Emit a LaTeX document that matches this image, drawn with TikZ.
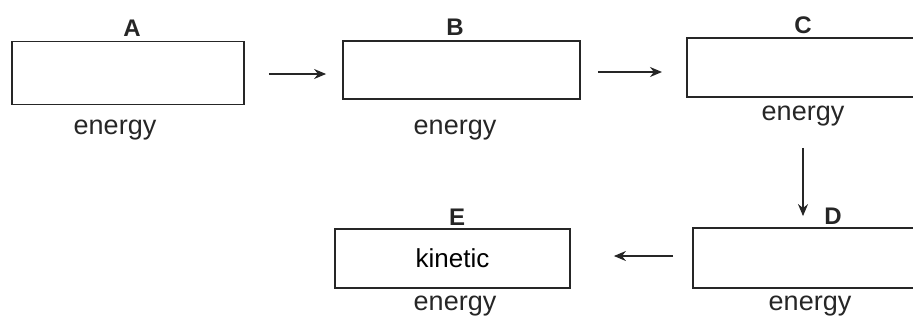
\documentclass[tikz,border=0pt]{standalone}
\usepackage{fontspec}
\setmainfont{Liberation Sans}
\usetikzlibrary{arrows.meta}
\begin{document}
\begin{tikzpicture}[x=1pt,y=-1pt,
  box/.style={draw=black!85, line width=1.8pt, rectangle, inner sep=0pt, font=\fontsize{26}{30}\selectfont},
  lab/.style={font=\bfseries\fontsize{24}{28}\selectfont, text=black!85, inner sep=0pt},
  en/.style={font=\fontsize{27}{31}\selectfont, text=black!85, inner sep=0pt},
  arr/.style={draw=black!85, line width=1.4pt, -{Stealth[length=12pt,width=10pt]}}]
\useasboundingbox (0,0) rectangle (913,325);
\node[box, minimum width=232, minimum height=63] (A) at (128,73) {};
\node[box, minimum width=237, minimum height=58] (B) at (461.5,70) {};
\node[box, minimum width=250, minimum height=59, anchor=west] (C) at (686,67.5) {};
\node[box, minimum width=250, minimum height=60, anchor=west] (D) at (692,258) {};
\node[box, minimum width=235, minimum height=59] (E) at (452.5,258.5) {kinetic};
\node[lab] (Al) at (132,28) {A};
\node[lab] (Bl) at (455,27) {B};
\node[lab] (Cl) at (803,25) {C};
\node[lab] (Dl) at (833,216) {D};
\node[lab] (El) at (457,217) {E};
\node[en] (Ae) at (115,130) {energy};
\node[en] (Be) at (455,130) {energy};
\node[en] (Ce) at (803,116) {energy};
\node[en] (De) at (810,306) {energy};
\node[en] (Ee) at (455,306) {energy};
\draw[arr, shorten <=24pt, shorten >=16pt] ([yshift=-1pt]A.east) -- ([yshift=-1pt]A.east -| B.west);
\draw[arr, shorten <=17pt, shorten >=24pt] ([yshift=-2pt]B.east) -- ([yshift=-2pt]B.east -| C.west);
\draw[arr, shorten <=50pt, shorten >=11pt] (Cl |- C.south) -- (Cl |- D.north);
\draw[arr, shorten <=19pt, shorten >=43pt] ([yshift=2pt]D.west) -- ([yshift=2pt]D.west -| E.east);
\end{tikzpicture}
\end{document}
